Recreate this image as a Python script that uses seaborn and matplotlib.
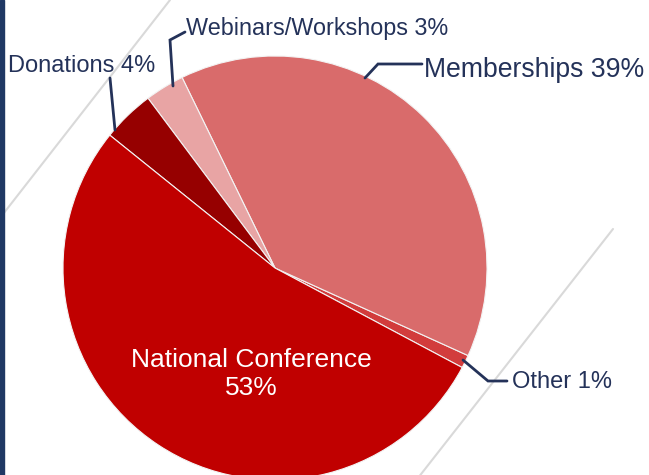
import matplotlib.pyplot as plt
import seaborn as sns

# revenue share by source (percent)
sources = ["Other", "Memberships", "Webinars/Workshops", "Donations", "National Conference"]
shares = [1, 39, 3, 4, 53]
slice_colors = ["#D23C3C", "#D96B6B", "#E8A4A4", "#960000", "#C00000"]

W, H = 649, 475
NAVY = "#243259"


def px(x, y):
    # pixel coords (top-left origin) -> data coords
    return x, H - y


sns.set_theme(style="white")
plt.rcParams["font.family"] = ["Liberation Sans", "DejaVu Sans"]

fig = plt.figure(figsize=(W / 100, H / 100), dpi=100)
ax = fig.add_axes([0, 0, 1, 1])

# faint diagonal decoration lines
for (x0, y0), (x1, y1) in [((0, 218), (170, 0)), ((613, 229), (418, 478))]:
    ax.plot(*zip(px(x0, y0), px(x1, y1)), color="#D9D9D9", lw=1.5, zorder=0)

# navy bar on the left edge
ax.axvspan(0, 4, color="#1F3864", zorder=1)

ax.pie(
    shares,
    colors=slice_colors,
    startangle=-28,
    counterclock=True,
    center=px(275, 268),
    radius=212,
    wedgeprops=dict(edgecolor="#F3F3F3", linewidth=0.8),
)

# outside labels with leader lines
outside = {
    "Donations": dict(pos=(8, 72), size=17, line=[(110, 78), (115, 130)]),
    "Webinars/Workshops": dict(pos=(186, 35), size=16.8, line=[(185, 32), (170, 40), (173, 86)]),
    "Memberships": dict(pos=(424, 77), size=19.2, line=[(422, 64), (378, 64), (365, 78)]),
    "Other": dict(pos=(512, 388), size=17, line=[(507, 381), (488, 381), (463, 360)]),
}
for name, share in zip(sources, shares):
    if name not in outside:
        continue
    o = outside[name]
    ax.text(*px(*o["pos"]), f"{name} {share}%", fontsize=o["size"], color=NAVY,
            ha="left", va="baseline")
    pts = [px(*p) for p in o["line"]]
    ax.plot([p[0] for p in pts], [p[1] for p in pts], color=NAVY, lw=2,
            solid_joinstyle="miter")

# label inside the big slice
ax.text(*px(251, 374), f"{sources[4]}\n{shares[4]}%", fontsize=19, color="white",
        ha="center", va="center", linespacing=1.25)

ax.set_xlim(0, W)
ax.set_ylim(0, H)
ax.set_aspect("equal", adjustable="box")
ax.axis("off")

fig.savefig("out.png", dpi=100)
